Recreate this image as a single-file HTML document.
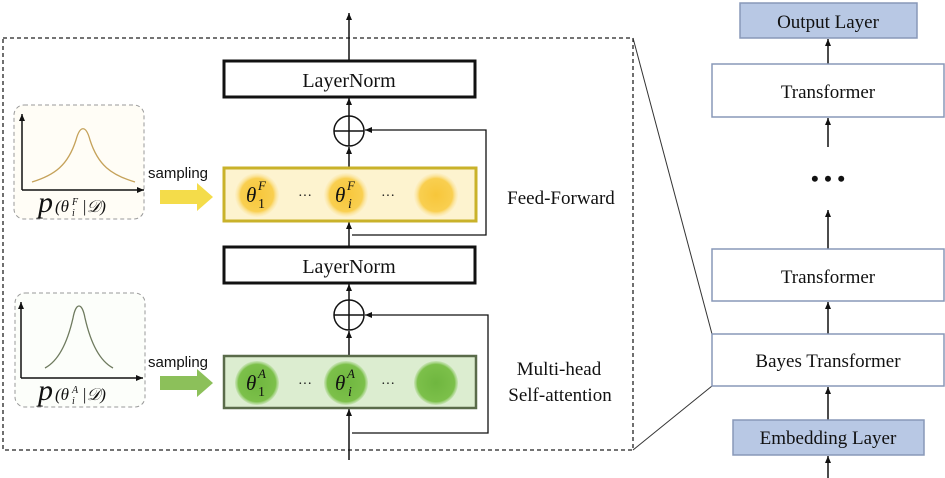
<!DOCTYPE html>
<html><head><meta charset="utf-8"><style>
html,body{margin:0;padding:0;background:#fff;}
svg{display:block;}
.t{font-family:"Liberation Serif",serif;fill:#111;}
.s{font-family:"Liberation Sans",sans-serif;fill:#111;}
</style></head><body>
<svg width="945" height="478" viewBox="0 0 945 478" xmlns="http://www.w3.org/2000/svg">
<defs>
<marker id="a" markerWidth="8" markerHeight="8" refX="7" refY="4" orient="auto" markerUnits="userSpaceOnUse">
<path d="M0,1 L7,4 L0,7 Z" fill="#111"/></marker>
<radialGradient id="yc"><stop offset="0" stop-color="#f7c63a"/><stop offset="0.75" stop-color="#f9cf50"/><stop offset="1" stop-color="#fbe7a8" stop-opacity="0.2"/></radialGradient>
<radialGradient id="gc"><stop offset="0" stop-color="#6fb63f"/><stop offset="0.85" stop-color="#7cc04a"/><stop offset="1" stop-color="#a9d68a" stop-opacity="0.4"/></radialGradient>
</defs>
<rect x="3" y="38" width="630" height="412" fill="none" stroke="#222" stroke-width="1.3" stroke-dasharray="4,3"/>
<line x1="633" y1="38" x2="712" y2="334" stroke="#333" stroke-width="1"/>
<line x1="633" y1="450" x2="712" y2="386" stroke="#333" stroke-width="1"/>
<line x1="349" y1="460" x2="349" y2="409" stroke="#111" stroke-width="1.5" marker-end="url(#a)"/>
<line x1="349" y1="356" x2="349" y2="331" stroke="#111" stroke-width="1.5" marker-end="url(#a)"/>
<line x1="349" y1="300" x2="349" y2="284" stroke="#111" stroke-width="1.5" marker-end="url(#a)"/>
<line x1="349" y1="247" x2="349" y2="222" stroke="#111" stroke-width="1.5" marker-end="url(#a)"/>
<line x1="349" y1="168" x2="349" y2="147" stroke="#111" stroke-width="1.5" marker-end="url(#a)"/>
<line x1="349" y1="116" x2="349" y2="98" stroke="#111" stroke-width="1.5" marker-end="url(#a)"/>
<line x1="349" y1="61" x2="349" y2="13" stroke="#111" stroke-width="1.5" marker-end="url(#a)"/>
<polyline points="352,235 486,235 486,130 365,130" fill="none" stroke="#111" stroke-width="1.3" marker-end="url(#a)"/>
<polyline points="352,433 488,433 488,315 365,315" fill="none" stroke="#111" stroke-width="1.3" marker-end="url(#a)"/>
<circle cx="349" cy="131" r="15" fill="#fff" stroke="#111" stroke-width="1.5"/>
<line x1="334" y1="131" x2="364" y2="131" stroke="#111" stroke-width="1.5"/><line x1="349" y1="116" x2="349" y2="146" stroke="#111" stroke-width="1.5"/>
<circle cx="349" cy="315" r="15" fill="#fff" stroke="#111" stroke-width="1.5"/>
<line x1="334" y1="315" x2="364" y2="315" stroke="#111" stroke-width="1.5"/><line x1="349" y1="300" x2="349" y2="330" stroke="#111" stroke-width="1.5"/>
<rect x="224" y="61" width="251" height="36" fill="#fff" stroke="#111" stroke-width="3"/>
<text class="t" x="349" y="87" font-size="20" text-anchor="middle">LayerNorm</text>
<rect x="224" y="247" width="251" height="36" fill="#fff" stroke="#111" stroke-width="3"/>
<text class="t" x="349" y="273" font-size="20" text-anchor="middle">LayerNorm</text>
<rect x="224" y="168" width="252" height="53" fill="#fdf3cf" stroke="#c9b22a" stroke-width="3"/>
<circle cx="257" cy="195" r="22" fill="url(#yc)"/><circle cx="346" cy="195" r="22" fill="url(#yc)"/><circle cx="436" cy="195" r="22" fill="url(#yc)"/>
<text class="t" x="246" y="202" font-size="21" font-style="italic">θ</text><text class="t" x="258" y="208" font-size="14">1</text><text class="t" x="258" y="190" font-size="13" font-style="italic">F</text>
<text class="t" x="335" y="202" font-size="21" font-style="italic">θ</text><text class="t" x="348" y="208" font-size="14" font-style="italic">i</text><text class="t" x="347" y="190" font-size="13" font-style="italic">F</text>
<text class="t" x="305" y="200" font-size="14" text-anchor="middle">···</text>
<text class="t" x="388" y="200" font-size="14" text-anchor="middle">···</text>
<rect x="224" y="356" width="252" height="52" fill="#dcedd0" stroke="#5a6b4a" stroke-width="2.5"/>
<circle cx="257" cy="383" r="22" fill="url(#gc)"/><circle cx="346" cy="383" r="22" fill="url(#gc)"/><circle cx="436" cy="383" r="22" fill="url(#gc)"/>
<text class="t" x="246" y="390" font-size="21" font-style="italic">θ</text><text class="t" x="258" y="396" font-size="14">1</text><text class="t" x="258" y="378" font-size="13" font-style="italic">A</text>
<text class="t" x="335" y="390" font-size="21" font-style="italic">θ</text><text class="t" x="348" y="396" font-size="14" font-style="italic">i</text><text class="t" x="347" y="378" font-size="13" font-style="italic">A</text>
<text class="t" x="305" y="388" font-size="14" text-anchor="middle">···</text>
<text class="t" x="388" y="388" font-size="14" text-anchor="middle">···</text>
<text class="t" x="561" y="204" font-size="19" text-anchor="middle">Feed-Forward</text>
<text class="t" x="559" y="375" font-size="19" text-anchor="middle">Multi-head</text>
<text class="t" x="560" y="401" font-size="19" text-anchor="middle">Self-attention</text>
<rect x="14" y="105" width="130" height="114" rx="10" fill="#fffdf6" stroke="#999" stroke-width="1" stroke-dasharray="4,3"/>
<line x1="22" y1="190" x2="22" y2="114" stroke="#111" stroke-width="1.5" marker-end="url(#a)"/>
<line x1="22" y1="190" x2="144" y2="190" stroke="#111" stroke-width="1.5" marker-end="url(#a)"/>
<path d="M32,182 C55,175 68,165 76,140 C80,125 86,125 90,140 C98,165 111,175 135,182" fill="none" stroke="#c5a25a" stroke-width="1.3"/>
<text class="t" x="38" y="212" font-size="30" font-style="italic">p</text>
<text class="t" x="55" y="212" font-size="17" font-style="italic">(θ</text><text class="t" x="72" y="205" font-size="10" font-style="italic">F</text><text class="t" x="72" y="216" font-size="10" font-style="italic">i</text><text class="t" x="82" y="212" font-size="17" font-style="italic">|𝒟)</text>
<rect x="15" y="293" width="130" height="114" rx="10" fill="#fcfefa" stroke="#999" stroke-width="1" stroke-dasharray="4,3"/>
<line x1="21" y1="378" x2="21" y2="302" stroke="#111" stroke-width="1.5" marker-end="url(#a)"/>
<line x1="21" y1="378" x2="143" y2="378" stroke="#111" stroke-width="1.5" marker-end="url(#a)"/>
<path d="M45,368 C60,360 68,340 73,318 C76,302 82,302 85,318 C90,340 98,360 113,368" fill="none" stroke="#6e7a5e" stroke-width="1.3"/>
<text class="t" x="38" y="400" font-size="30" font-style="italic">p</text>
<text class="t" x="55" y="400" font-size="17" font-style="italic">(θ</text><text class="t" x="72" y="393" font-size="10" font-style="italic">A</text><text class="t" x="72" y="404" font-size="10" font-style="italic">i</text><text class="t" x="82" y="400" font-size="17" font-style="italic">|𝒟)</text>
<text class="s" x="148" y="178" font-size="15">sampling</text>
<polygon points="160,190 197,190 197,183 213,197 197,211 197,204 160,204" fill="#f4dc4a"/>
<text class="s" x="148" y="367" font-size="15">sampling</text>
<polygon points="160,376 197,376 197,369 213,383 197,397 197,390 160,390" fill="#8cc05a"/>
<rect x="740" y="3" width="177" height="35" fill="#b8c8e4" stroke="#8898b8" stroke-width="1.5"/>
<text class="t" x="828" y="28" font-size="19" text-anchor="middle">Output Layer</text>
<line x1="828" y1="64" x2="828" y2="39" stroke="#111" stroke-width="1.5" marker-end="url(#a)"/>
<rect x="712" y="64" width="232" height="53" fill="#fff" stroke="#8898b8" stroke-width="1.5"/>
<text class="t" x="828" y="98" font-size="19" text-anchor="middle">Transformer</text>
<line x1="828" y1="147" x2="828" y2="118" stroke="#111" stroke-width="1.5" marker-end="url(#a)"/>
<text class="t" x="828" y="186" font-size="22" text-anchor="middle" font-weight="bold">• • •</text>
<line x1="828" y1="249" x2="828" y2="210" stroke="#111" stroke-width="1.5" marker-end="url(#a)"/>
<rect x="712" y="249" width="232" height="52" fill="#fff" stroke="#8898b8" stroke-width="1.5"/>
<text class="t" x="828" y="283" font-size="19" text-anchor="middle">Transformer</text>
<line x1="828" y1="334" x2="828" y2="302" stroke="#111" stroke-width="1.5" marker-end="url(#a)"/>
<rect x="712" y="334" width="232" height="52" fill="#fff" stroke="#8898b8" stroke-width="1.5"/>
<text class="t" x="828" y="367" font-size="19" text-anchor="middle">Bayes Transformer</text>
<line x1="828" y1="420" x2="828" y2="387" stroke="#111" stroke-width="1.5" marker-end="url(#a)"/>
<rect x="733" y="420" width="191" height="35" fill="#b8c8e4" stroke="#8898b8" stroke-width="1.5"/>
<text class="t" x="828" y="444" font-size="19" text-anchor="middle">Embedding Layer</text>
<line x1="828" y1="478" x2="828" y2="456" stroke="#111" stroke-width="1.5" marker-end="url(#a)"/>
</svg>
</body></html>
